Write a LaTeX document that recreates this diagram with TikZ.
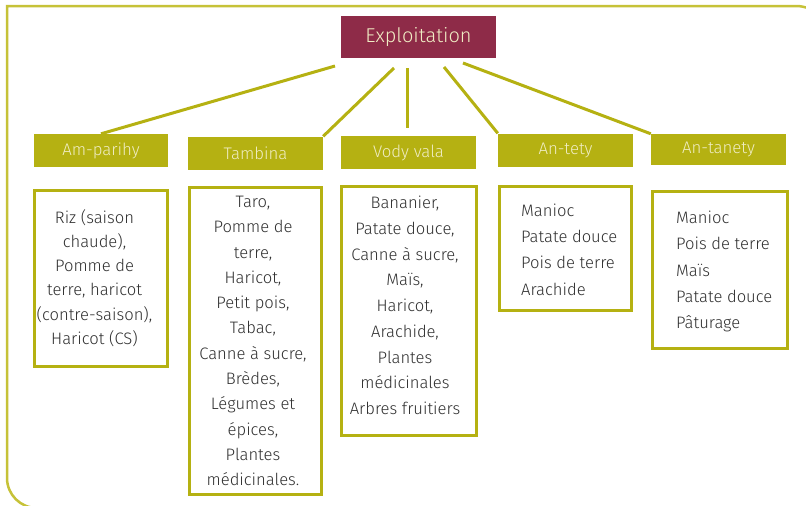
\documentclass[tikz,border=0pt]{standalone}
\usepackage{fontspec}
\setmainfont{Fira Sans}[UprightFont={* Light}]
\begin{document}
\begin{tikzpicture}[x=1pt,y=-1pt,
  olivefill/.style={fill=olive0, draw=none},
  hdr/.style={olivefill, minimum height=33pt, inner sep=0pt, text=cream,
     font=\fontsize{16.8}{20}\selectfont},
  cbox/.style={draw=olive0, line width=3pt, fill=white, inner sep=0pt},
  ctext/.style={inner sep=0pt, text=txtgray, font=\fontsize{16.6}{25.3}\selectfont},
  conn/.style={draw=olive0, line width=3pt}]
\definecolor{olive0}{HTML}{B5B112}
\definecolor{frameol}{HTML}{C6C238}
\definecolor{wine}{HTML}{8E2B48}
\definecolor{cream}{HTML}{F0EDC4}
\definecolor{txtgray}{HTML}{303030}
\useasboundingbox (0,0) rectangle (806,506);
\begin{scope}
\clip (0,0) rectangle (806,506);
\draw[frameol, line width=2.5pt] (830,40) arc[start angle=0, end angle=-90, radius=34] -- (7,6) -- (7,478) arc[start angle=180, end angle=90, radius=30] -- (830,508);
\end{scope}
% top node
\node[fill=wine, minimum width=155pt, minimum height=42pt, inner sep=0pt, text=cream,
  font=\fontsize{20}{24}\selectfont] (expl) at (418.5,37) {Exploitation};
% headers
\node[hdr, minimum width=134pt] (amp) at (101,150.5) {Am-parihy};
\node[hdr, minimum width=135pt] (tamb) at (255.5,153) {Tambina};
\node[hdr, minimum width=135pt] (vody) at (408.5,152.5) {Vody vala};
\node[hdr, minimum width=135pt] (ant) at (565.5,150) {An-tety};
\node[hdr, minimum width=135pt, minimum height=31pt] (antan) at (718.5,149.5) {An-tanety};
% connectors
\coordinate (s1) at (335,66);
\coordinate (s2) at (394,68);
\coordinate (s3) at (407,68);
\coordinate (e3) at (407,128);
\coordinate (s4) at (444,67);
\coordinate (s5) at (463,63);
\draw[conn] (s1) -- (amp.north);
\draw[conn] (s2) -- (tamb.north east);
\draw[conn] (s3) -- (e3);
\draw[conn] (s4) -- (ant.north west);
\draw[conn] (s5) -- (antan.north west);
% content boxes
\node[cbox, minimum width=133pt, minimum height=176pt] (b1) at (100.5,278) {};
\node[cbox, minimum width=132pt, minimum height=307pt] (b2) at (255,340.5) {};
\node[cbox, minimum width=135pt, minimum height=249pt] (b3) at (408.5,310.5) {};
\node[cbox, minimum width=132pt, minimum height=124pt] (b4) at (565,248) {};
\node[cbox, minimum width=135pt, minimum height=157pt] (b5) at (719.5,269.5) {};
% texts
\node[ctext, align=center, font=\fontsize{16.6}{24.2}\selectfont] (t1) at (94.5,278) {Riz (saison\\chaude),\\Pomme de\\terre, haricot\\(contre-saison),\\Haricot (CS)};
\node[ctext, align=center] (t2) at (253,341) {Taro,\\Pomme de\\terre,\\Haricot,\\Petit pois,\\Tabac,\\Canne à sucre,\\Brèdes,\\Légumes et\\épices,\\Plantes\\médicinales.};
\node[ctext, align=center, font=\fontsize{16.6}{25.7}\selectfont] (t3) at (405,305.5) {Bananier,\\Patate douce,\\Canne à sucre,\\Maïs,\\Haricot,\\Arachide,\\Plantes\\médicinales\\Arbres fruitiers};
\node[ctext, align=left, anchor=west, font=\fontsize{16.6}{26.3}\selectfont] (t4) at (521,249.5) {Manioc\\Patate douce\\Pois de terre\\Arachide};
\node[ctext, align=left, anchor=west, font=\fontsize{16.6}{26.3}\selectfont] (t5) at (676,271.5) {Manioc\\Pois de terre\\Maïs\\Patate douce\\Pâturage};
\end{tikzpicture}
\end{document}
